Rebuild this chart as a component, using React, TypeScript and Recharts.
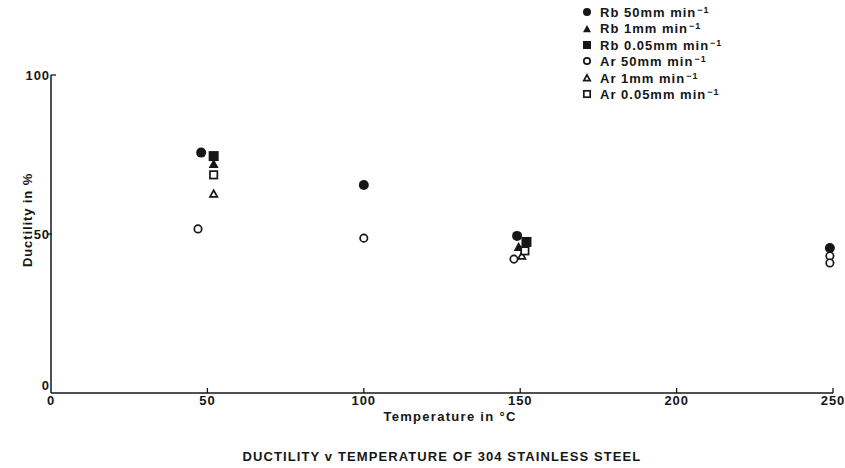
import React from 'react';
import { ScatterChart, Scatter, XAxis, YAxis, Legend } from 'recharts';

// temperatures (°C) and ductility (%), one pair of arrays per series
const rb50Temp = [48, 100, 149, 249];
const rb50Duct = [75.6, 65.4, 49.4, 45.6];
const rb1Temp = [52, 149.5];
const rb1Duct = [72.0, 45.9];
const rb005Temp = [52, 152];
const rb005Duct = [74.5, 47.5];
const ar50Temp = [47, 100, 148, 249, 249];
const ar50Duct = [51.6, 48.7, 42.1, 43.1, 40.9];
const ar1Temp = [52, 150.5];
const ar1Duct = [62.6, 43.1];
const ar005Temp = [52, 151.5];
const ar005Duct = [68.6, 44.7];

const xTicks = [0, 50, 100, 150, 200, 250];
const yTicks = [0, 50, 100];

const ink = '#161616';
const font = '"Liberation Sans", Arial, sans-serif';

type Kind = 'circle' | 'triangle' | 'square';

const toPoints = (temps: number[], ducts: number[]) =>
  temps.map((t, i) => ({ t, d: ducts[i] }));

const series = [
  { name: 'Rb 50mm min', kind: 'circle' as Kind, filled: true, data: toPoints(rb50Temp, rb50Duct) },
  { name: 'Rb 1mm min', kind: 'triangle' as Kind, filled: true, data: toPoints(rb1Temp, rb1Duct) },
  { name: 'Rb 0.05mm min', kind: 'square' as Kind, filled: true, data: toPoints(rb005Temp, rb005Duct) },
  { name: 'Ar 50mm min', kind: 'circle' as Kind, filled: false, data: toPoints(ar50Temp, ar50Duct) },
  { name: 'Ar 1mm min', kind: 'triangle' as Kind, filled: false, data: toPoints(ar1Temp, ar1Duct) },
  { name: 'Ar 0.05mm min', kind: 'square' as Kind, filled: false, data: toPoints(ar005Temp, ar005Duct) },
];

const Marker = ({ cx, cy, kind, filled, size }: { cx: number; cy: number; kind: Kind; filled: boolean; size: number }) => {
  const sw = filled ? 0 : 1.7;
  const fill = filled ? ink : '#fff';
  const h = filled ? size / 2 : size / 2 - 0.8;
  if (kind === 'circle') {
    return <circle cx={cx} cy={cy} r={h} fill={fill} stroke={ink} strokeWidth={sw} />;
  }
  if (kind === 'square') {
    return <rect x={cx - h} y={cy - h} width={h * 2} height={h * 2} fill={fill} stroke={ink} strokeWidth={sw} />;
  }
  const pts = `${cx},${cy - h} ${cx + h},${cy + h * 0.8} ${cx - h},${cy + h * 0.8}`;
  return <polygon points={pts} fill={fill} stroke={ink} strokeWidth={sw} strokeLinejoin="miter" />;
};

const XTick = ({ x, y, payload }: any) => (
  <g>
    {payload.value !== 0 && <line x1={x} x2={x} y1={y} y2={y - 5} stroke={ink} strokeWidth={1.3} />}
    <text x={x} y={y + 12} textAnchor="middle" fill={ink} fontSize={13} fontWeight={700} fontFamily={font} letterSpacing={0.9}>
      {payload.value}
    </text>
  </g>
);

const YTick = ({ x, y, payload }: any) => {
  const v = payload.value;
  return (
    <g>
      {v === 100 && <line x1={x} x2={x + 5} y1={y} y2={y} stroke={ink} strokeWidth={1.3} />}
      {v === 50 && <line x1={x - 4} x2={x + 1} y1={y} y2={y} stroke={ink} strokeWidth={1.3} />}
      <text x={x - 1} y={v === 0 ? y - 3 : y + 5} textAnchor="end" fill={ink} fontSize={13} fontWeight={700} fontFamily={font} letterSpacing={0.9}>
        {v}
      </text>
    </g>
  );
};

const renderLegend = () => (
  <div style={{ fontFamily: font, color: ink }}>
    {series.map((s) => (
      <div key={s.name} style={{ display: 'flex', alignItems: 'center', height: 16.4 }}>
        <svg width={12} height={12} style={{ flex: 'none' }}>
          <Marker cx={6} cy={6} kind={s.kind} filled={s.filled} size={8} />
        </svg>
        <span style={{ marginLeft: 7, fontSize: 13, fontWeight: 700, letterSpacing: 1, whiteSpace: 'nowrap' }}>
          {s.name}
          <sup style={{ fontSize: 9, marginLeft: 1, position: 'relative', top: 1 }}>−1</sup>
        </span>
      </div>
    ))}
  </div>
);

export default function App() {
  return (
    <div style={{ position: 'absolute', left: 0, top: 0, width: 845, height: 468, background: '#fff' }}>
      <ScatterChart width={845} height={468} margin={{ top: 75, right: 12, bottom: 30, left: 11 }}>
        <XAxis
          type="number"
          dataKey="t"
          domain={[0, 250]}
          ticks={xTicks}
          height={45}
          tickSize={0}
          tickMargin={0}
          tickLine={false}
          tick={<XTick />}
          axisLine={{ stroke: ink, strokeWidth: 1.5 }}
          label={({ viewBox }: any) => (
            <g>
              <text x={viewBox.x + viewBox.width / 2 + 8} y={viewBox.y + 28} textAnchor="middle" fill={ink} fontSize={13} fontWeight={700} fontFamily={font} letterSpacing={1.3}>
                Temperature in °C
              </text>
              <text x={viewBox.x + viewBox.width / 2} y={viewBox.y + 68} textAnchor="middle" fill={ink} fontSize={13} fontWeight={700} fontFamily={font} letterSpacing={1.1}>
                DUCTILITY v TEMPERATURE OF 304 STAINLESS STEEL
              </text>
            </g>
          )}
        />
        <YAxis
          type="number"
          dataKey="d"
          domain={[0, 100]}
          ticks={yTicks}
          width={40}
          tickSize={0}
          tickMargin={0}
          tickLine={false}
          tick={<YTick />}
          axisLine={{ stroke: ink, strokeWidth: 1.5 }}
          label={() => (
            <text
              x={27}
              y={220}
              transform="rotate(-90 27 220)"
              textAnchor="middle"
              dominantBaseline="central"
              fill={ink}
              fontSize={13}
              fontWeight={700}
              fontFamily={font}
              letterSpacing={0.9}
            >
              Ductility in %
            </text>
          )}
        />
        <Legend
          layout="vertical"
          align="center"
          verticalAlign="middle"
          content={renderLegend}
          wrapperStyle={{ left: 581, top: 4, width: 190 }}
        />
        {series.map((s) => (
          <Scatter
            key={s.name}
            name={s.name}
            data={s.data}
            isAnimationActive={false}
            shape={(p: any) => <Marker cx={p.cx} cy={p.cy} kind={s.kind} filled={s.filled} size={s.filled ? 10 : 9} />}
          />
        ))}
      </ScatterChart>
    </div>
  );
}
